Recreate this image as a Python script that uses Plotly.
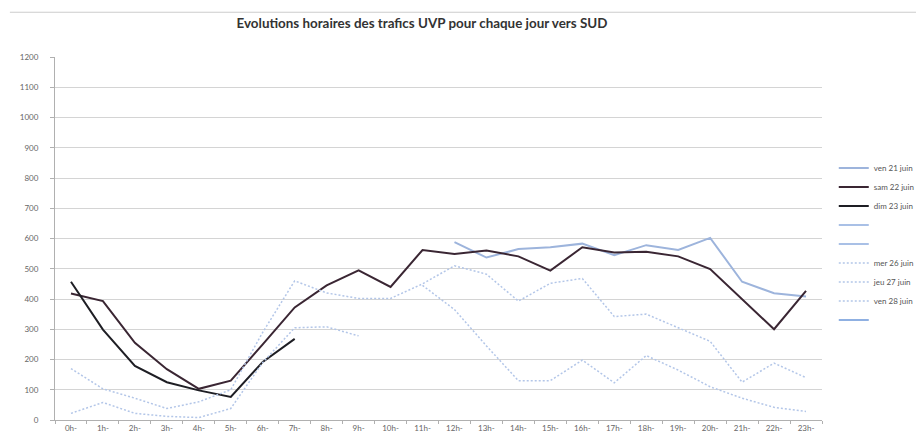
import plotly.graph_objects as go

hours = [f"{h}h-" for h in range(24)]

ven21 = [None]*12 + [588, 537, 565, 571, 583, 545, 578, 562, 602, 457, 419, 408]
sam22 = [418, 393, 255, 168, 103, 130, 250, 372, 445, 495, 440, 562,
         549, 560, 541, 494, 571, 554, 556, 541, 499, 400, 300, 427]
dim23 = [457, 299, 179, 125, 98, 76, 192, 268] + [None]*16
lun24 = [None]*24
mar25 = [None]*24
mer26 = [None]*11 + [445, 365, 245, 130, 130, 198, 123, 213, 165, 110, 72, 42, 28]
jeu27 = [170, 103, 72, 38, 60, 100, 290, 460, 420, 402, 402, 450,
         510, 482, 393, 452, 468, 342, 350, 305, 260, 125, 188, 140]
ven28 = [22, 58, 22, 12, 8, 38, 190, 305, 308, 278] + [None]*14
sam29 = [None]*24

series = [
    ("ven 21 juin", ven21, "#9db4dc", "solid", 2),
    ("sam 22 juin", sam22, "#3a2633", "solid", 2),
    ("dim 23 juin", dim23, "#1e1e24", "solid", 2),
    (" ", lun24, "#a9c0e6", "solid", 2),
    ("  ", mar25, "#a9c0e6", "solid", 2),
    ("mer 26 juin", mer26, "#b3c6e8", "2px,2px", 1.5),
    ("jeu 27 juin", jeu27, "#b3c6e8", "2px,2px", 1.5),
    ("ven 28 juin", ven28, "#b3c6e8", "2px,2px", 1.5),
    ("   ", sam29, "#8fb0e2", "solid", 2),
]

fig = go.Figure()
for i, (name, vals, color, dash, w) in enumerate(series):
    has = any(v is not None for v in vals)
    fig.add_trace(go.Scatter(
        x=hours if has else [hours[0]], y=vals if has else [None],
        name=name, mode="lines",
        line=dict(color=color, dash=dash, width=w),
        connectgaps=False, legendgroup=f"g{i}", showlegend=True,
    ))

fig.update_layout(
    width=924, height=437,
    margin=dict(l=46, r=96, t=49, b=23),
    paper_bgcolor="white", plot_bgcolor="white",
    title=dict(text="<b>Evolutions horaires des trafics UVP pour chaque jour vers SUD</b>",
               x=414/924, xanchor="center", y=1 - 15/437, yanchor="middle",
               font=dict(family="Lato", size=13.4, color="#333333")),
    font=dict(family="Lato", size=8, color="#666666"),
    legend=dict(x=(840-46)/782, xanchor="left", y=(414-146)/365, yanchor="top",
                font=dict(family="Lato", size=8, color="#555555"),
                tracegroupgap=0, itemwidth=30, bgcolor="rgba(0,0,0,0)"),
    showlegend=True,
)
fig.update_xaxes(
    type="category", categoryorder="array", categoryarray=hours,
    showgrid=False, showline=True, linecolor="#b0b0b0", linewidth=1,
    ticks="outside", tickson="boundaries", ticklen=3, tickcolor="#b0b0b0",
    tickfont=dict(size=8, color="#666666"), range=[-0.5, 23.5],
)
fig.update_yaxes(
    range=[0, 1200], dtick=100, tick0=0,
    showgrid=True, gridcolor="#d4d4d4", gridwidth=1,
    showline=True, linecolor="#b0b0b0", linewidth=1,
    ticks="outside", ticklen=4, tickcolor="#b0b0b0",
    tickfont=dict(size=8, color="#666666"), ticklabelstandoff=10,
    zeroline=False,
)
fig.add_shape(type="line", xref="paper", yref="paper", x0=-46/782, x1=(924-46)/782,
              y0=1 + (49-4)/365, y1=1 + (49-4)/365, line=dict(color="#cccccc", width=1))

fig.write_html("out.html")
